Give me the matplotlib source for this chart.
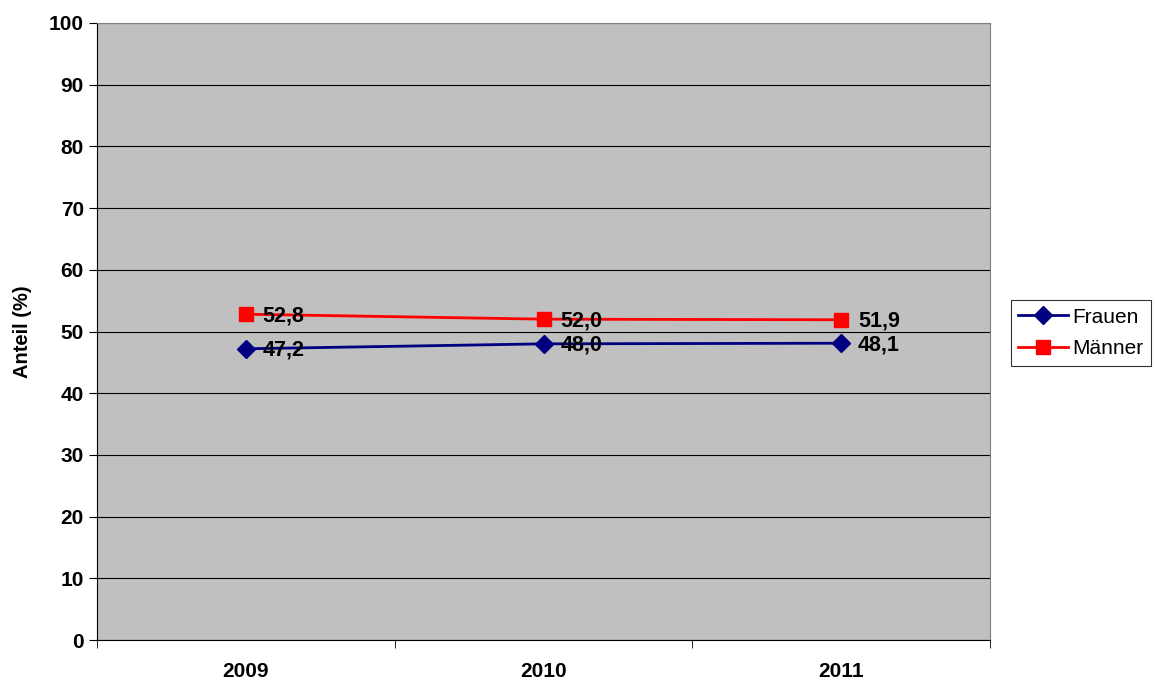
import matplotlib.pyplot as plt
import numpy as np

years = ["2009", "2010", "2011"]
frauen = [47.2, 48.0, 48.1]
maenner = [52.8, 52.0, 51.9]

plt.rcParams['font.family'] = ['Liberation Sans', 'DejaVu Sans']

fig = plt.figure(figsize=(11.55, 6.82), dpi=100)
ax = fig.add_axes([97 / 1155, 1 - 640 / 682, (990 - 97) / 1155, (640 - 23) / 682])
ax.set_facecolor('#c0c0c0')

x = np.arange(len(years))
ax.plot(x, frauen, color='#000080', marker='D', markersize=9, lw=2, label='Frauen', zorder=3)
ax.plot(x, maenner, color='#ff0000', marker='s', markersize=10, lw=2, label='Männer', zorder=3)

for xi, v in zip(x, frauen):
    ax.annotate(f"{v:.1f}".replace('.', ','), (xi, v), xytext=(12, -1), textcoords='offset points',
                va='center', ha='left', fontsize=15.5, fontweight='bold', zorder=4)
for xi, v in zip(x, maenner):
    ax.annotate(f"{v:.1f}".replace('.', ','), (xi, v), xytext=(12, -1), textcoords='offset points',
                va='center', ha='left', fontsize=15.5, fontweight='bold', zorder=4)

ax.set_xlim(-0.5, len(years) - 0.5)
ax.set_ylim(0, 100)
ax.set_yticks(range(0, 101, 10))
ax.yaxis.grid(True, color='black', lw=0.8)
ax.set_axisbelow(True)

ax.set_xticks(x)
ax.set_xticklabels(years, fontsize=15, fontweight='bold')
ax.set_xticks(np.arange(-0.5, len(years), 1), minor=True)
ax.tick_params(axis='x', which='major', length=0, pad=16)
ax.tick_params(axis='x', which='minor', length=6, direction='out')
ax.tick_params(axis='y', length=6, direction='out', labelsize=15)
for lbl in ax.get_yticklabels():
    lbl.set_fontweight('bold')

ax.set_ylabel('Anteil (%)', fontsize=14.5, fontweight='bold', labelpad=12)

for side in ['top', 'right']:
    ax.spines[side].set_color('#808080')
for side in ['left', 'bottom']:
    ax.spines[side].set_color('black')

leg = fig.legend(loc='center left', bbox_to_anchor=(1011 / 1155, 1 - 333 / 682), fontsize=15,
                 frameon=True, fancybox=False, edgecolor='black', handlelength=2.4,
                 borderpad=0.35, labelspacing=0.6, handletextpad=0.2, borderaxespad=0)
leg.get_frame().set_linewidth(0.8)

fig.savefig('out.png', dpi=100)
